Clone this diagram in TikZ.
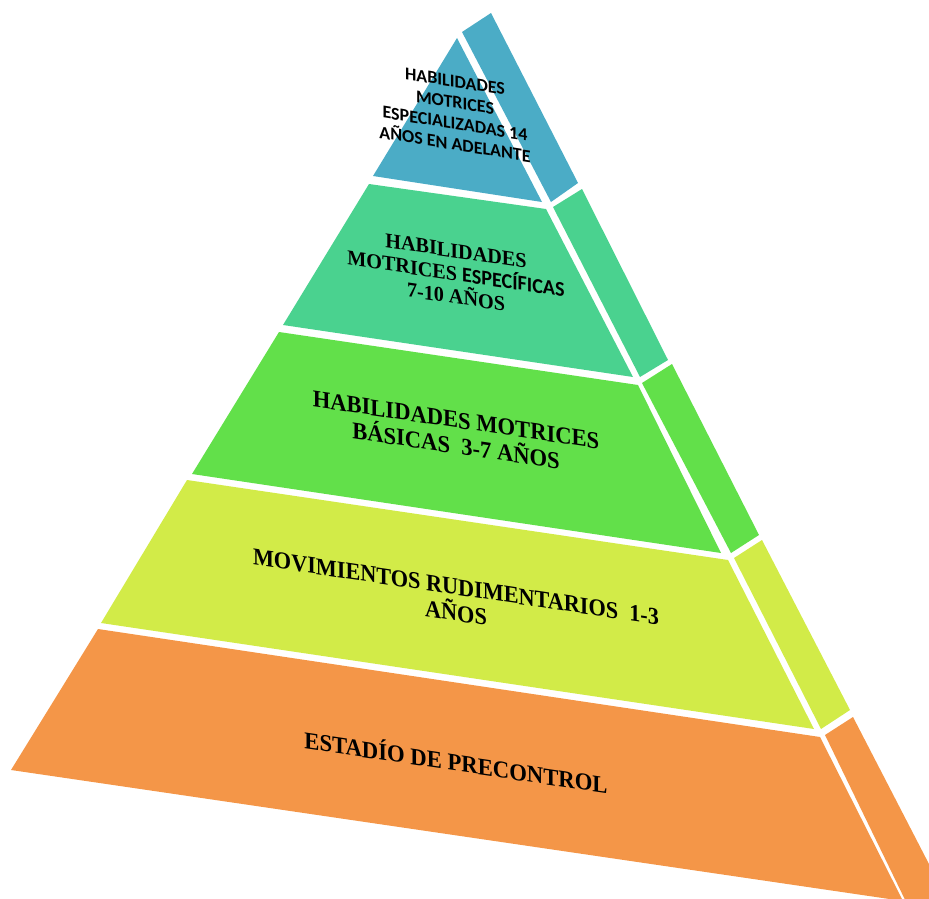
\documentclass[tikz,border=0pt]{standalone}
\usepackage{fontspec}
\setmainfont{Liberation Serif}
\newfontfamily\calib{Carlito}
\definecolor{cblue}{HTML}{4BACC6}
\definecolor{cteal}{HTML}{4AD28F}
\definecolor{cgreen}{HTML}{62E04A}
\definecolor{cyellow}{HTML}{D2EB48}
\definecolor{corange}{HTML}{F49648}
\begin{document}
\begin{tikzpicture}[x=1pt,y=-1pt,
  lbl/.style={text=black, align=center, inner sep=0pt, yslant=-0.148},
  serifbig/.style={font=\bfseries\fontsize{24}{26}\selectfont, xscale=0.94}]
\useasboundingbox (0,0) rectangle (929,899);
\clip (0,0) rectangle (929,899);
% top (blue)
\fill[cblue] (457,38) -- (542,202) -- (373,176) -- cycle;
\fill[cblue] (462,32) -- (491,13) -- (578,183) -- (551,202) -- cycle;
% teal
\fill[cteal] (369,184) -- (546,209) -- (633,377) -- (283,325) -- cycle;
\fill[cteal] (553,207) -- (582,189) -- (668,360) -- (640,377) -- cycle;
% green
\fill[cgreen] (279,332) -- (638,385) -- (721,553) -- (192,474) -- cycle;
\fill[cgreen] (642,383) -- (672,364) -- (759,535) -- (731,553) -- cycle;
% yellow
\fill[cyellow] (187,480) -- (728,560) -- (814,729) -- (101,623) -- cycle;
\fill[cyellow] (734,558) -- (762,540) -- (850,710) -- (821,729) -- cycle;
% orange
\fill[corange] (98,629) -- (820,737) -- (903,901) -- (11,770) -- cycle;
\fill[corange] (825,735) -- (853,717) -- (945,895) -- (945,910) -- (910,910) -- cycle;
% labels
\node[lbl, yslant=-0.012, font=\calib\bfseries\fontsize{18}{21}\selectfont] (t1) at (455,113)
  {HABILIDADES\\MOTRICES\\ESPECIALIZADAS 14\\AÑOS EN ADELANTE};
\node[lbl, font=\bfseries\fontsize{21}{23}\selectfont, xscale=0.96] (t2) at (456,274)
  {HABILIDADES\\MOTRICES {\calib ESPECÍFICAS}\\7-10 AÑOS};
\node[lbl, serifbig] (t3) at (456,433)
  {HABILIDADES MOTRICES\\BÁSICAS\ \ 3-7 AÑOS};
\node[lbl, serifbig, xscale=0.985] (t4) at (456,600)
  {MOVIMIENTOS RUDIMENTARIOS\ \ 1-3\\AÑOS};
\node[lbl, serifbig, xscale=1.005] (t5) at (456,761)
  {ESTADÍO DE PRECONTROL};
\end{tikzpicture}
\end{document}
